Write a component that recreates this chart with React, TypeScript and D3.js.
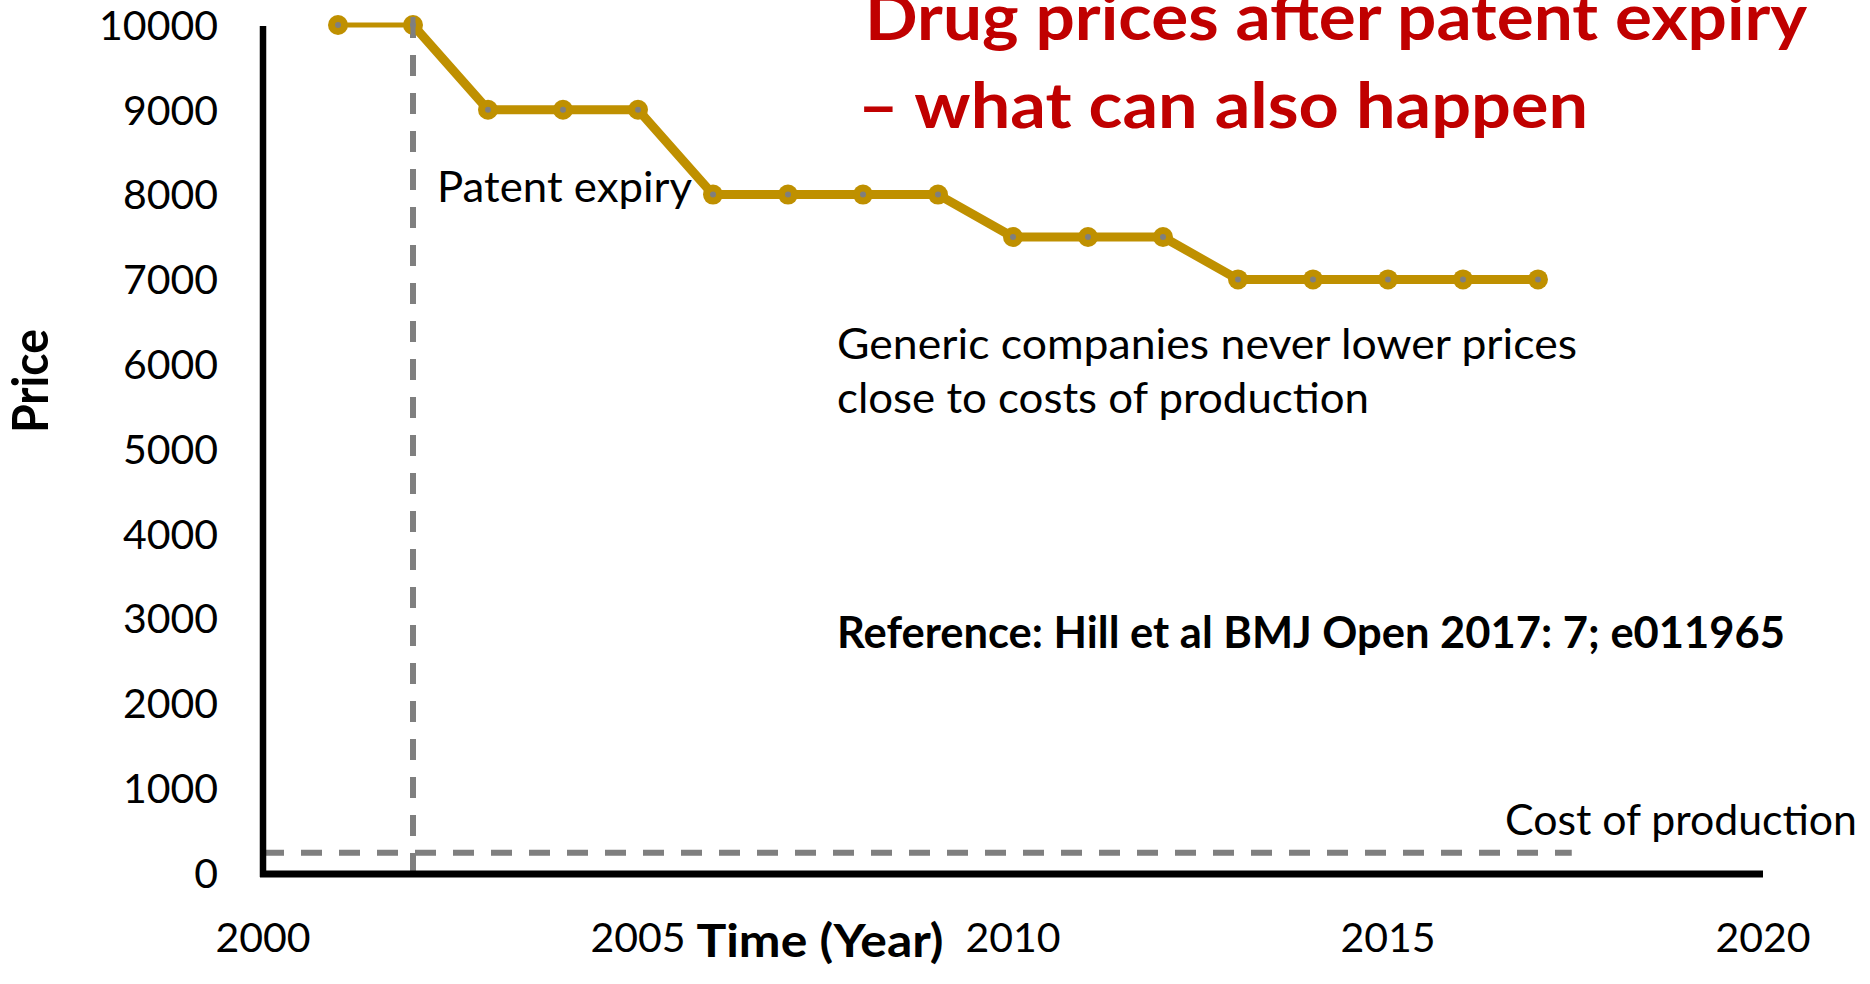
import React from "react";
import * as d3 from "d3";

const years = [2001, 2002, 2003, 2004, 2005, 2006, 2007, 2008, 2009, 2010, 2011, 2012, 2013, 2014, 2015, 2016, 2017];
const prices = [10000, 10000, 9000, 9000, 9000, 8000, 8000, 8000, 8000, 7500, 7500, 7500, 7000, 7000, 7000, 7000, 7000];
const yTicks = [0, 1000, 2000, 3000, 4000, 5000, 6000, 7000, 8000, 9000, 10000];
const xTicks = [2000, 2005, 2010, 2015, 2020];
const patentExpiryYear = 2002;
const costOfProduction = 240;
const costLineEndYear = 2017.45;

const titleLines = ["Drug prices after patent expiry", "\u2013 what can also happen"];
const noteLines = ["Generic companies never lower prices", "close to costs of production"];
const referenceText = "Reference: Hill et al BMJ Open 2017: 7; e011965";

const W = 1870;
const H = 984;
const FONT = "Lato, 'Open Sans', sans-serif";
const GOLD = "#BF9000";
const GRAY = "#7F7F7F";
const RED = "#C00000";

export default function App() {
  const x = d3.scaleLinear().domain([2000, 2020]).range([263, 1763]);
  const y = d3.scaleLinear().domain([0, 10000]).range([873, 25]);
  const pts = years.map((yr, i) => ({ yr, v: prices[i] }));
  const line = d3
    .line<{ yr: number; v: number }>()
    .x((d) => x(d.yr))
    .y((d) => y(d.v));

  const first = pts.slice(0, 2);
  const rest = pts.slice(1);

  return (
    <svg
      width={W}
      height={H}
      style={{ position: "absolute", left: 0, top: 0, background: "#fff" }}
      fontFamily={FONT}
    >
      {/* title */}
      <text x={865} y={40} fill={RED} fontWeight="bold" fontSize={64} textLength={942} lengthAdjust="spacingAndGlyphs">
        {titleLines[0]}
      </text>
      <text x={858} y={128} fill={RED} fontWeight="bold" fontSize={64} textLength={730} lengthAdjust="spacingAndGlyphs">
        {titleLines[1]}
      </text>

      {/* y tick labels */}
      {yTicks.map((t) => (
        <text key={t} x={218} y={y(t)} dy="0.36em" textAnchor="end" fontSize={41} fill="#000">
          {t}
        </text>
      ))}
      {/* x tick labels */}
      {xTicks.map((t) => (
        <text key={t} x={x(t)} y={952} textAnchor="middle" fontSize={41} fill="#000">
          {t}
        </text>
      ))}

      {/* axis titles */}
      <text x={820} y={957} textAnchor="middle" fontWeight="bold" fontSize={46} textLength={247} lengthAdjust="spacingAndGlyphs">
        Time (Year)
      </text>
      <text
        transform={`translate(48,381) rotate(-90)`}
        textAnchor="middle"
        fontWeight="bold"
        fontSize={50}
        textLength={104}
        lengthAdjust="spacingAndGlyphs"
      >
        Price
      </text>

      {/* dashed reference lines */}
      <line
        x1={x(2000)}
        x2={x(costLineEndYear)}
        y1={y(costOfProduction)}
        y2={y(costOfProduction)}
        stroke={GRAY}
        strokeWidth={6}
        strokeDasharray="21 17"
      />
      <line
        x1={x(patentExpiryYear)}
        x2={x(patentExpiryYear)}
        y1={y(10000) - 8}
        y2={877}
        stroke={GRAY}
        strokeWidth={6}
        strokeDasharray="21 17"
      />

      {/* axes */}
      <line x1={x(2000)} x2={x(2000)} y1={26} y2={877} stroke="#000" strokeWidth={6.5} />
      <line x1={x(2000) - 3} x2={x(2020)} y1={y(0) + 1} y2={y(0) + 1} stroke="#000" strokeWidth={7} />

      {/* series */}
      <path d={line(first) || ""} fill="none" stroke={GOLD} strokeWidth={5} />
      <path d={line(rest) || ""} fill="none" stroke={GOLD} strokeWidth={9} strokeLinejoin="round" />
      {pts.map((p) => (
        <g key={p.yr}>
          <circle cx={x(p.yr)} cy={y(p.v)} r={10} fill={GOLD} />
          <circle cx={x(p.yr)} cy={y(p.v)} r={3} fill={GRAY} />
        </g>
      ))}
      {/* dashed line crosses over the 2002 marker */}
      <line
        x1={x(patentExpiryYear)}
        x2={x(patentExpiryYear)}
        y1={y(10000) - 8}
        y2={y(10000) + 12}
        stroke={GRAY}
        strokeWidth={5}
      />

      {/* annotations */}
      <text x={437} y={202} fontSize={42} textLength={255} lengthAdjust="spacingAndGlyphs">
        Patent expiry
      </text>
      <text x={837} y={359} fontSize={42} textLength={740} lengthAdjust="spacingAndGlyphs">
        {noteLines[0]}
      </text>
      <text x={837} y={413} fontSize={42} textLength={532} lengthAdjust="spacingAndGlyphs">
        {noteLines[1]}
      </text>
      <text x={837} y={648} fontSize={43} fontWeight="bold" textLength={948} lengthAdjust="spacingAndGlyphs">
        {referenceText}
      </text>
      <text x={1505} y={835} fontSize={42} textLength={352} lengthAdjust="spacingAndGlyphs">
        Cost of production
      </text>
    </svg>
  );
}
